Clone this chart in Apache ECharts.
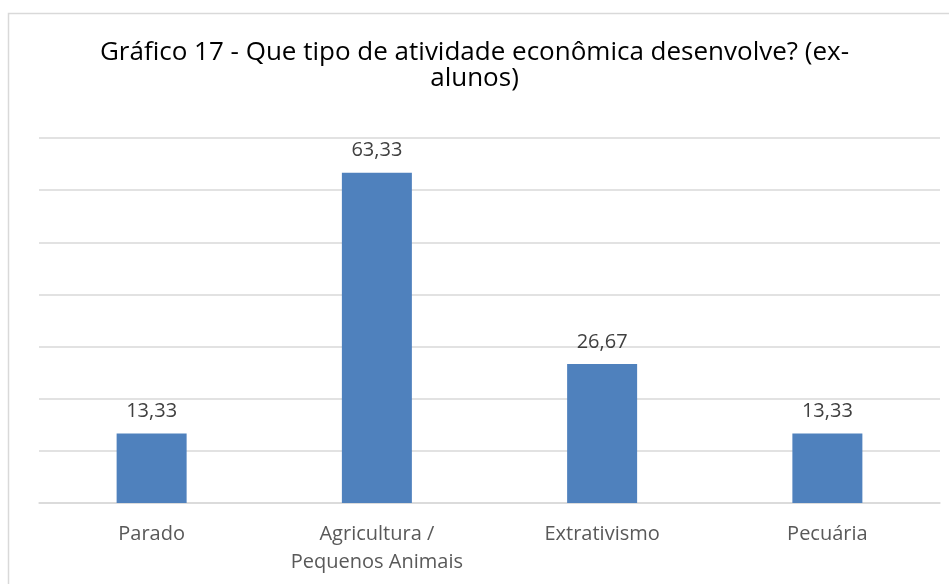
<!DOCTYPE html>
<html>
<head>
<meta charset="utf-8">
<script src="https://cdn.jsdelivr.net/npm/echarts@6/dist/echarts.min.js"></script>
<style>
  html, body { margin: 0; padding: 0; background: #fff; }
  #chart { width: 949px; height: 584px; }
</style>
</head>
<body>
<div id="chart"></div>
<script>
// dados do gráfico
const titleText = 'Gráfico 17 - Que tipo de atividade econômica desenvolve? (ex-\nalunos)';
const categories = ['Parado', 'Agricultura / Pequenos Animais', 'Extrativismo', 'Pecuária'];
const values = [13.33, 63.33, 26.67, 13.33];
const yMin = 0;
const yMax = 70;
const yStep = 10;

const myChart = echarts.init(document.getElementById('chart'));
const chartOption = {
  animation: false,
  graphic: [{
    type: 'rect',
    shape: { x: 8.5, y: 13.5, width: 960, height: 600 },
    style: { fill: 'none', stroke: '#D9D9D9', lineWidth: 1.5 },
    silent: true
  }],
  title: {
    text: titleText,
    left: 'center',
    top: 40,
    padding: [0, 0, 0, 22],
    textStyle: {
      color: '#000',
      fontFamily: 'Open Sans',
      fontWeight: 'normal',
      fontSize: 26,
      lineHeight: 26,
      align: 'center'
    }
  },
  grid: {
    left: 39,
    right: 9,
    top: 138,
    bottom: 81,
    containLabel: false
  },
  xAxis: {
    type: 'category',
    data: categories,
    axisLine: { lineStyle: { color: '#D9D9D9', width: 1.5 } },
    axisTick: { show: false },
    axisLabel: {
      color: '#595959',
      fontFamily: 'Open Sans',
      fontSize: 20,
      lineHeight: 28,
      margin: 17,
      formatter: function (v) { return v.replace(' / ', ' /\n'); }
    }
  },
  yAxis: {
    type: 'value',
    min: yMin,
    max: yMax,
    interval: yStep,
    axisLine: { show: false },
    axisTick: { show: false },
    axisLabel: { show: false },
    splitLine: { lineStyle: { color: '#D9D9D9', width: 1.5 } }
  },
  series: [{
    type: 'bar',
    data: values,
    barWidth: 70,
    itemStyle: { color: '#4F81BD' },
    label: {
      show: true,
      position: 'top',
      distance: 12,
      color: '#404040',
      fontFamily: 'Open Sans',
      fontSize: 20,
      formatter: function (p) { return p.value.toFixed(2).replace('.', ','); }
    }
  }]
};
myChart.setOption(chartOption);
</script>
</body>
</html>
